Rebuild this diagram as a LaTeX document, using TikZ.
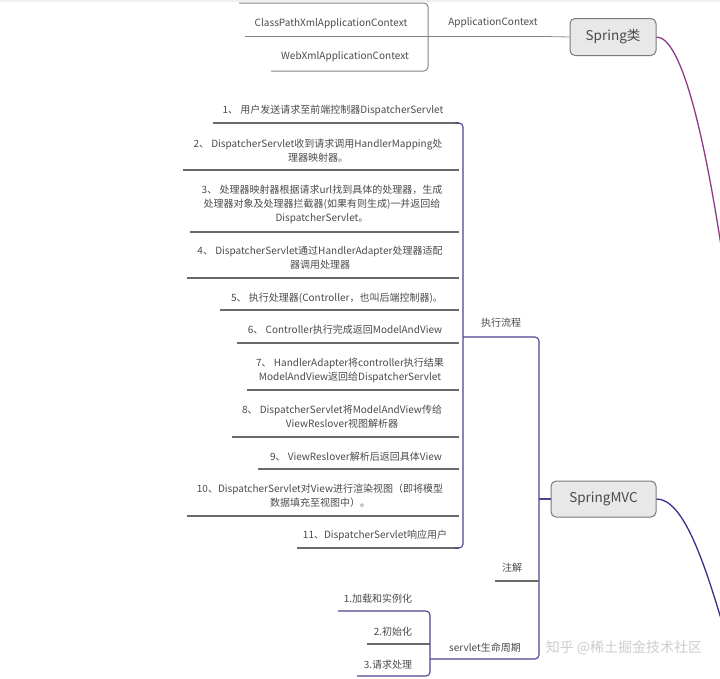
\documentclass[tikz,border=0pt]{standalone}
\usepackage{fontspec}
\setmainfont{Noto Sans CJK SC}
\usetikzlibrary{calc}
\definecolor{txt}{HTML}{4A4A4A}
\definecolor{ulg}{HTML}{6A6A6A}
\definecolor{topg}{HTML}{858585}
\definecolor{brm}{HTML}{4B4590}
\definecolor{springc}{HTML}{8E3A8A}
\definecolor{mvcc}{HTML}{3A2E8C}
\definecolor{rootfill}{HTML}{E8E8E8}
\definecolor{rootdraw}{HTML}{7A7A7A}
\begin{document}
\begin{tikzpicture}[x=1pt,y=-1pt,
  lbl/.style={font=\fontsize{10}{14}\selectfont, text=txt, align=center, inner sep=0pt},
  rootbox/.style={draw=rootdraw, fill=rootfill, rounded corners=5pt, line width=1pt,
    font=\fontsize{13.5}{16}\selectfont, text=txt, inner sep=0pt},
  ulm/.style={draw=ulg, line width=1.1pt},
  ult/.style={draw=topg, line width=1.1pt},
  brk/.style={draw=brm, line width=1.1pt, rounded corners=4pt},
  brt/.style={draw=topg, line width=1pt, rounded corners=4pt},
  wmark/.style={font=\fontsize{14}{14}\selectfont, text=gray!40, inner sep=0pt}]
\useasboundingbox (0,0) rectangle (720,678);
\fill[gray!12] (0,0) rectangle (720,2);

% ---------- roots ----------
\node[rootbox, minimum width=86pt, minimum height=37pt] (spring) at (613,37) {Spring类};
\node[rootbox, minimum width=105pt, minimum height=36pt] (mvc) at (603.5,499) {SpringMVC};
\coordinate (sprEnd) at (722,252);
\coordinate (mvcEnd) at (722,622);
\draw[springc, line width=1.3pt] (spring.east) .. controls (682,37) and (705,140) .. (sprEnd);
\draw[mvcc, line width=1.3pt] (mvc.east) .. controls (682,499) and (702,555) .. (mvcEnd);

% ---------- Spring branch ----------
\node[lbl] (ac) at (493,23) {ApplicationContext};
\node[lbl] (cp) at (331,24) {ClassPathXmlApplicationContext};
\node[lbl] (wx) at (345,57) {WebXmlApplicationContext};
\coordinate (tbx) at (428,0);
\coordinate (prevl) at (239,3);
\coordinate (cpl) at (245,36.5);
\coordinate (wxl) at (271,71);
\coordinate (acl) at (440,36.5);
\coordinate (acr) at (545,36.5);
\draw[brt] (prevl) -- (prevl -| tbx) -- (wxl -| tbx) -- (wxl);
\draw[ult] (cpl) -- (cpl -| tbx);
\draw[topg, line width=0.8pt] (cpl -| tbx) -- (acl);
\draw[ult, line width=1.3pt] (acl) -- (acr);
\draw[topg, line width=0.8pt] (acr) -- (spring.west);

% ---------- SpringMVC: steps ----------
\node[lbl] (s1) at (333,110) {1、 用户发送请求至前端控制器DispatcherServlet};
\node[lbl] (s2) at (318,151) {2、 DispatcherServlet收到请求调用HandlerMapping处\\理器映射器。};
\node[lbl] (s3) at (322,204) {3、 处理器映射器根据请求url找到具体的处理器，生成\\处理器对象及处理器拦截器(如果有则生成)一并返回给\\DispatcherServlet。};
\node[lbl] (s4) at (320,258) {4、 DispatcherServlet通过HandlerAdapter处理器适配\\器调用处理器};
\node[lbl] (s5) at (337,298) {5、 执行处理器(Controller，也叫后端控制器)。};
\node[lbl] (s6) at (345,330) {6、 Controller执行完成返回ModelAndView};
\node[lbl] (s7) at (350,370) {7、 HandlerAdapter将controller执行结果\\ModelAndView返回给DispatcherServlet};
\node[lbl] (s8) at (342,417) {8、 DispatcherServlet将ModelAndView传给\\ViewReslover视图解析器};
\node[lbl] (s9) at (356,457) {9、 ViewReslover解析后返回具体View};
\node[lbl] (s10) at (320,496) {10、DispatcherServlet对View进行渲染视图（即将模型\\数据填充至视图中）。};
\node[lbl] (s11) at (375,535) {11、DispatcherServlet响应用户};

\coordinate (bx) at (463,0);
\coordinate (u1) at (213,123);
\coordinate (u2) at (183,170);
\coordinate (u3) at (190,232);
\coordinate (u4) at (187,278);
\coordinate (u5) at (220,310);
\coordinate (u6) at (237,343);
\coordinate (u7) at (247,390);
\coordinate (u8) at (232,437);
\coordinate (u9) at (258,469);
\coordinate (u10) at (187,516);
\coordinate (u11) at (297,548);
\foreach \u in {u1,u2,u3,u4,u5,u6,u7,u8,u9,u10,u11}
  \draw[ulm] (\u) -- ($(\u -| bx)+(-4,0)$);
\draw[brk] ($(u1 -| bx)+(-8,0)$) -- (u1 -| bx) -- (u11 -| bx) -- ($(u11 -| bx)+(-8,0)$);

% ---------- SpringMVC: children ----------
\node[lbl] (flow) at (501,323) {执行流程};
\node[lbl] (anno) at (512,568) {注解};
\node[lbl] (life) at (485,648) {servlet生命周期};
\coordinate (mx) at (539,0);
\coordinate (flowl) at (463,337);
\coordinate (annol) at (495,581);
\coordinate (lifel) at (430,659);
\draw[brk] (flowl) -- (flowl -| mx) -- (lifel -| mx) -- (lifel);
\draw[ulm] (annol) -- (annol -| mx);
\draw[brm, line width=1.1pt] (mvc.west -| mx) -- (mvc.west);

% ---------- servlet lifecycle ----------
\node[lbl] (l1) at (378,599) {1.加载和实例化};
\node[lbl] (l2) at (393,632) {2.初始化};
\node[lbl] (l3) at (388,665) {3.请求处理};
\coordinate (lx) at (430,0);
\coordinate (v1) at (338,611);
\coordinate (v2) at (367,644);
\coordinate (v3) at (357,676);
\draw[ulm] (v2) -- (v2 -| lx);
\draw[brk] (v1) -- (v1 -| lx) -- (v3 -| lx) -- (v3);

% ---------- watermark ----------
\node[wmark] (wm) at (624,648) {知乎 @稀土掘金技术社区};
\end{tikzpicture}
\end{document}
